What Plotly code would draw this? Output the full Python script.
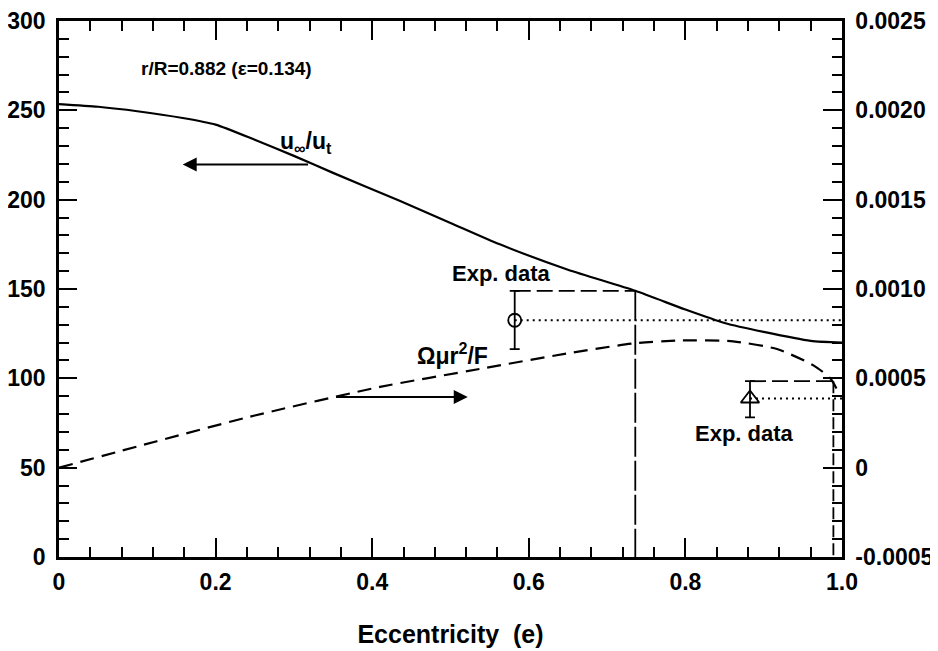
import plotly.graph_objects as go

# ---- data ----
# u_inf/u_t (left axis)
ecc_u = [0.0, 0.05, 0.1, 0.158, 0.2, 0.25, 0.3, 0.35, 0.435, 0.5, 0.563, 0.65, 0.736, 0.8, 0.85, 0.9, 0.96, 1.0]
u_ratio = [253.5, 252.0, 249.5, 245.7, 242.0, 233.5, 224.5, 215.0, 199.4, 187.0, 175.0, 160.8, 149.0, 138.5, 131.0, 126.0, 121.0, 120.0]

# Omega mu r^2 / F (right axis)
ecc_o = [0.0, 0.125, 0.25, 0.41, 0.538, 0.65, 0.736, 0.793, 0.861, 0.917, 0.963, 0.985, 0.994]
omega = [0.0, 0.000148, 0.000292, 0.000452, 0.000553, 0.00064, 0.000697, 0.000712, 0.000707, 0.000664, 0.000574, 0.0005, 0.000435]

# experimental data (right axis)
exp_x = [0.582, 0.8825]
exp_y = [0.000825, 0.000387]
exp_hi = [0.00099, 0.000484]
exp_lo = [0.000664, 0.000282]
exp_ref_x = [0.736, 0.989]   # where the dashed reference lines drop to the axis

x_ticks = [0, 0.2, 0.4, 0.6, 0.8, 1.0]
x_ticktext = ["0", "0.2", "0.4", "0.6", "0.8", "1.0"]
yl_ticks = [0, 50, 100, 150, 200, 250, 300]
yr_ticks = [-0.0005, 0, 0.0005, 0.0010, 0.0015, 0.0020, 0.0025]
yr_ticktext = ["-0.0005", "0", "0.0005", "0.0010", "0.0015", "0.0020", "0.0025"]

FONT = "Liberation Sans, Arial, Helvetica, sans-serif"
YR_MIN, YR_MAX = -0.0005, 0.0025
TICKFONT = dict(family=FONT, size=23, color="black", weight="bold")

fig = go.Figure()

fig.add_trace(go.Scatter(x=ecc_u, y=u_ratio, mode="lines", line=dict(color="black", width=2.2, shape="spline", smoothing=0.6),
                         yaxis="y", showlegend=False))
fig.add_trace(go.Scatter(x=ecc_o, y=omega, mode="lines", line=dict(color="black", width=2.2, dash="14px,8px", shape="spline", smoothing=0.6),
                         yaxis="y2", showlegend=False))

# reference dashed lines (from error-bar top to drop line, then down to axis)
for i in range(len(exp_x)):
    fig.add_trace(go.Scatter(x=[exp_x[i], exp_ref_x[i]], y=[exp_hi[i], exp_hi[i]], mode="lines",
                             line=dict(color="black", width=1.8, dash="16px,6px"), yaxis="y2", showlegend=False))
    fig.add_trace(go.Scatter(x=[exp_ref_x[i], exp_ref_x[i]], y=[exp_hi[i], YR_MIN], mode="lines",
                             line=dict(color="black", width=1.8, dash="30px,4px" if i == 0 else "12px,6px"), yaxis="y2", showlegend=False))
    # dotted line to the right axis
    fig.add_trace(go.Scatter(x=[exp_x[i], 1.0], y=[exp_y[i], exp_y[i]], mode="lines",
                             line=dict(color="black", width=2.2, dash="2px,4px"), yaxis="y2", showlegend=False))

symbols = ["circle-open", "triangle-up-open"]
for i in range(len(exp_x)):
    fig.add_trace(go.Scatter(
        x=[exp_x[i]], y=[exp_y[i]], mode="markers", yaxis="y2", showlegend=False,
        marker=dict(symbol=symbols[i], size=13 if i == 0 else 16, color="black", line=dict(width=1.8)),
        error_y=dict(type="data", symmetric=False, array=[exp_hi[i] - exp_y[i]], arrayminus=[exp_y[i] - exp_lo[i]],
                     color="black", thickness=1.8, width=5)))

# invisible trace so the mirrored top axis is drawn
fig.add_trace(go.Scatter(x=[0, 1], y=[None, None], xaxis="x2", yaxis="y", mode="lines", showlegend=False, hoverinfo="skip"))

annos = [
    dict(x=0.214, y=273.4, text="r/R=0.882 (ε=0.134)", showarrow=False, size=19),
    dict(x=0.28, y=232, text="u<sub>∞</sub>/u<sub>t</sub>", showarrow=False, xanchor="left", size=23),
    dict(x=0.565, y=158.8, text="Exp. data", showarrow=False, size=22),
    dict(x=0.502, y=113.5, text="Ωμr<sup>2</sup>/F", showarrow=False, size=23),
    dict(x=0.876, y=69.2, text="Exp. data", showarrow=False, size=22),
    # arrows
    dict(x=0.158, y=219.7, ax=0.32, ay=219.7, axref="x", ayref="y", text="",
         showarrow=True, arrowhead=2, arrowsize=1.4, arrowwidth=2, arrowcolor="black"),
    dict(x=0.522, y=89.6, ax=0.352, ay=89.6, axref="x", ayref="y", text="",
         showarrow=True, arrowhead=2, arrowsize=1.4, arrowwidth=2, arrowcolor="black"),
]
for a in annos:
    a["xref"] = "x"
    a["yref"] = "y"
    a["font"] = dict(family=FONT, color="black", size=a.pop("size", 18), weight="bold")
fig.update_layout(annotations=annos)

common_x = dict(range=[0, 1.0], tickvals=x_ticks, showgrid=False, zeroline=False,
                showline=True, linecolor="black", linewidth=2.5,
                ticks="inside", ticklen=19, tickwidth=2.2, tickcolor="black",
                minor=dict(dtick=0.04, ticks="inside", ticklen=10, tickwidth=1.8, tickcolor="black", showgrid=False),
                automargin=False)

# page body has an 8px default margin, so the figure is sized to fill the rest of the 938x651 window
fig.update_layout(
    width=930, height=643,
    margin=dict(l=51, r=96, t=13, b=94),
    paper_bgcolor="white", plot_bgcolor="white",
    font=dict(family=FONT, color="black", size=18),
    xaxis=dict(**common_x, ticktext=x_ticktext, ticklabelstandoff=3, tickfont=TICKFONT, ticklabeloverflow="allow",
               title=dict(text="Eccentricity  (e)", font=dict(family=FONT, size=25, color="black", weight="bold"), standoff=32)),
    xaxis2=dict(**common_x, overlaying="x", side="top", anchor="y", showticklabels=False),
    yaxis=dict(range=[0, 300], tickvals=yl_ticks, showgrid=False, zeroline=False,
               showline=True, linecolor="black", linewidth=2.5,
               ticks="inside", ticklen=18, tickwidth=2.2, tickcolor="black",
               minor=dict(dtick=10, ticks="inside", ticklen=10, tickwidth=1.8, tickcolor="black", showgrid=False),
               ticklabelstandoff=6, tickfont=TICKFONT, automargin=False, ticklabeloverflow="allow"),
    yaxis2=dict(range=[YR_MIN, YR_MAX], tickvals=yr_ticks, ticktext=yr_ticktext, overlaying="y", side="right",
                showgrid=False, zeroline=False, showline=True, linecolor="black", linewidth=2.5,
                ticks="inside", ticklen=19, tickwidth=2.2, tickcolor="black",
                minor=dict(dtick=0.0001, ticks="inside", ticklen=10, tickwidth=1.8, tickcolor="black", showgrid=False),
                ticklabelstandoff=6, tickfont=TICKFONT, automargin=False, ticklabeloverflow="allow"),
)

fig.write_html("out.html")
